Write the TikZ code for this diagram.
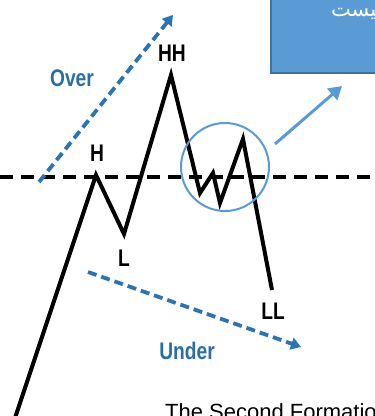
\documentclass[tikz,border=0pt]{standalone}
\usepackage{fontspec}
\setmainfont{Liberation Sans}
\newfontfamily\condfont[FakeStretch=0.8]{Liberation Sans}
\newfontfamily\arabicfont[Script=Arabic]{DejaVu Sans}
\TeXXeTstate=1
\usetikzlibrary{arrows.meta}
\definecolor{boxblue}{HTML}{5B9BD5}
\definecolor{boxedge}{HTML}{41719C}
\definecolor{dashblue}{HTML}{2A73B4}
\definecolor{lblblue}{HTML}{2A6EA6}
\tikzset{
  price/.style={line width=4pt, black, line join=miter, miter limit=10},
  level/.style={line width=4pt, black, dash pattern=on 13pt off 8pt},
  trendarrow/.style={line width=3.8pt, dashblue, dash pattern=on 9pt off 5pt, -{Triangle[length=10pt,width=12pt]}},
  callout/.style={line width=3pt, boxblue, -{Triangle[length=13pt,width=15pt]}},
  ptlabel/.style={font=\condfont\bfseries\fontsize{24}{24}\selectfont, inner sep=0pt},
  bluelabel/.style={font=\condfont\bfseries\fontsize{24}{24}\selectfont, text=lblblue, inner sep=0pt},
}
\begin{document}
\begin{tikzpicture}[x=1pt,y=-1pt]
\useasboundingbox (0,0) rectangle (375,416);
\clip (0,0) rectangle (375,416);
\fill[white] (0,0) rectangle (375,416);

% callout box
\node[draw=boxedge, fill=boxblue, line width=2pt, minimum width=130pt, minimum height=90pt, anchor=south west, inner sep=0pt] (box) at (270,74) {};
\node[anchor=east, inner sep=0pt, text=white, font=\arabicfont\fontsize{21}{21}\selectfont] (boxtext) at (377,14) {\beginR ^^^^200dیست\endR};

% horizontal level
\coordinate (lvlL) at (0,177);
\coordinate (lvlR) at (375,177);
\draw[level] (lvlL) -- (lvlR);

% price path
\coordinate (p0) at (15,418);
\coordinate (pH) at (96,175);
\coordinate (pL) at (124,234);
\coordinate (pHH) at (171,75);
\coordinate (p4) at (200,193);
\coordinate (p5) at (213,173);
\coordinate (p6) at (220,203);
\coordinate (p7) at (243,139);
\coordinate (pLL) at (272,290);
\draw[price] (p0) -- (pH) -- (pL) -- (pHH) -- (p4) -- (p5) -- (p6) -- (p7) -- (pLL);

% circle
\node[draw=boxblue, line width=2pt, circle, minimum size=88pt, inner sep=0pt] (ring) at (225,167) {};

% callout arrow
\coordinate (cs) at (275,144);
\coordinate (ce) at (342,86);
\draw[callout] (cs) -- (ce);

% trend arrows
\coordinate (os) at (39,182);
\coordinate (oe) at (173,15);
\draw[trendarrow] (os) -- (oe);
\coordinate (us) at (88,272);
\coordinate (ue) at (301,347);
\draw[trendarrow] (us) -- (ue);

% labels
\node[ptlabel] (lH) at (97,153) {H};
\node[ptlabel] (lHH) at (172,53) {HH};
\node[ptlabel] (lL) at (124,258) {L};
\node[ptlabel] (lLL) at (273,311) {LL};
\node[bluelabel] (lover) at (72,78) {Over};
\node[bluelabel] (lunder) at (187,351) {Under};

\node[anchor=base west, inner sep=0pt, font=\fontsize{22}{22}\selectfont] (title) at (165,419) {The Second Formatio};
\end{tikzpicture}
\end{document}
